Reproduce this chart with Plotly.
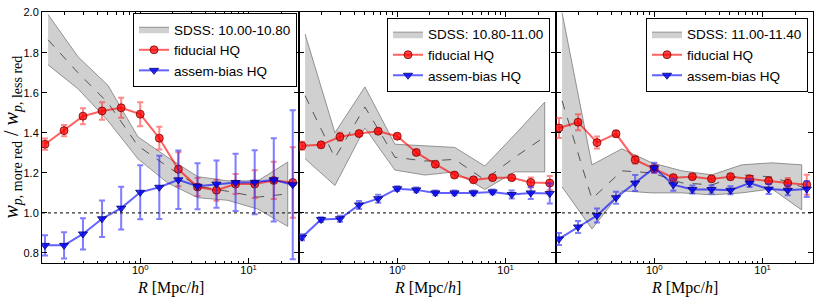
import plotly.graph_objects as go

# ---------------- data ----------------
R = [0.132, 0.198, 0.296, 0.444, 0.667, 1.0, 1.5, 2.25, 3.38, 5.06, 7.59, 11.4, 17.1, 25.6]
R_sdss = [0.141, 0.266, 0.503, 0.952, 1.80, 3.40, 6.43, 12.2, 23.0]

sdss_labels = ["SDSS: 10.00-10.80", "SDSS: 10.80-11.00", "SDSS: 11.00-11.40"]

fid_1 = [1.343, 1.411, 1.483, 1.509, 1.525, 1.493, 1.373, 1.218, 1.129, 1.113, 1.144, 1.144, 1.162, 1.152]
fid_err_1 = [0.028, 0.028, 0.04, 0.044, 0.05, 0.06, 0.057, 0.085, 0.045, 0.052, 0.05, 0.069, 0.093, 0.176]
ab_1 = [0.838, 0.838, 0.895, 0.971, 1.024, 1.103, 1.128, 1.165, 1.133, 1.144, 1.152, 1.153, 1.165, 1.141]
ab_err_1 = [0.051, 0.066, 0.078, 0.091, 0.107, 0.135, 0.158, 0.146, 0.115, 0.118, 0.143, 0.16, 0.208, 0.372]
sdss_hi_1 = [1.99, 1.78, 1.637, 1.38, 1.277, 1.181, 1.16, 1.16, 1.254]
sdss_lo_1 = [1.739, 1.62, 1.46, 1.27, 1.149, 1.076, 1.063, 1.019, 0.933]
sdss_mid_1 = [1.864, 1.70, 1.55, 1.335, 1.23, 1.133, 1.108, 1.079, 1.095]

fid_2 = [1.335, 1.340, 1.380, 1.396, 1.408, 1.383, 1.302, 1.243, 1.189, 1.165, 1.176, 1.176, 1.152, 1.149]
fid_err_2 = [0.02, 0.012, 0.02, 0.012, 0.012, 0.012, 0.012, 0.012, 0.012, 0.012, 0.012, 0.012, 0.025, 0.035]
ab_2 = [0.879, 0.967, 0.971, 1.040, 1.071, 1.121, 1.115, 1.100, 1.100, 1.100, 1.105, 1.092, 1.100, 1.097]
ab_err_2 = [0.015, 0.012, 0.015, 0.02, 0.02, 0.012, 0.012, 0.012, 0.012, 0.012, 0.012, 0.02, 0.03, 0.05]
sdss_hi_2 = [1.893, 1.400, 1.629, 1.343, 1.335, 1.327, 1.234, 1.391, 1.553]
sdss_lo_2 = [1.270, 1.137, 1.424, 1.214, 1.189, 1.205, 1.117, 1.205, 1.205]
sdss_mid_2 = [1.585, 1.275, 1.529, 1.278, 1.259, 1.267, 1.165, 1.278, 1.380]

fid_3 = [1.424, 1.453, 1.351, 1.395, 1.265, 1.221, 1.176, 1.181, 1.170, 1.181, 1.170, 1.160, 1.149, 1.141]
fid_err_3 = [0.05, 0.04, 0.03, 0.015, 0.02, 0.02, 0.015, 0.012, 0.012, 0.015, 0.015, 0.015, 0.025, 0.05]
ab_3 = [0.870, 0.930, 0.987, 1.076, 1.149, 1.225, 1.141, 1.117, 1.117, 1.113, 1.149, 1.119, 1.113, 1.119]
ab_err_3 = [0.03, 0.03, 0.035, 0.03, 0.04, 0.025, 0.03, 0.02, 0.02, 0.02, 0.02, 0.025, 0.025, 0.04]
sdss_hi_3 = [2.00, 1.24, 1.32, 1.25, 1.21, 1.19, 1.24, 1.25, 1.24]
sdss_lo_3 = [1.13, 0.92, 1.11, 1.10, 1.10, 1.09, 1.10, 1.12, 1.015]
sdss_mid_3 = [1.56, 1.07, 1.21, 1.20, 1.15, 1.14, 1.19, 1.18, 1.13]

y_ticks = [0.8, 1.0, 1.2, 1.4, 1.6, 1.8, 2.0]
x_ticks = [1, 10]
x_ticktext = ["10<sup>0</sup>", "10<sup>1</sup>"]
x_minor = [0.2, 0.3, 0.4, 0.5, 0.6, 0.7, 0.8, 0.9, 2, 3, 4, 5, 6, 7, 8, 9, 20]

panels = [
    (fid_1, fid_err_1, ab_1, ab_err_1, sdss_hi_1, sdss_lo_1, sdss_mid_1),
    (fid_2, fid_err_2, ab_2, ab_err_2, sdss_hi_2, sdss_lo_2, sdss_mid_2),
    (fid_3, fid_err_3, ab_3, ab_err_3, sdss_hi_3, sdss_lo_3, sdss_mid_3),
]

# ---------------- figure ----------------
W, H = 830, 307
ML, MR, MT, MB = 42, 17, 6, 44
PW = W - ML - MR
PH = H - MT - MB

RED_LINE = "rgba(255,0,0,0.62)"
RED_ERR = "rgba(255,40,40,0.55)"
BLUE_LINE = "rgba(0,0,255,0.62)"
BLUE_ERR = "rgba(40,40,255,0.6)"

fig = go.Figure()
legend_names = ["legend", "legend2", "legend3"]

for i, (fid, fid_err, ab, ab_err, hi, lo, mid) in enumerate(panels):
    xa = "x" if i == 0 else f"x{i+1}"
    ya = "y" if i == 0 else f"y{i+1}"
    lg = legend_names[i]
    # SDSS band
    fig.add_trace(go.Scatter(
        x=R_sdss + R_sdss[::-1], y=hi + lo[::-1],
        fill="toself", fillcolor="rgba(150,150,150,0.45)",
        line=dict(color="rgba(110,110,110,0.7)", width=1),
        mode="lines", name=sdss_labels[i], legend=lg,
        xaxis=xa, yaxis=ya, hoverinfo="skip"))
    fig.add_trace(go.Scatter(
        x=R_sdss, y=mid, mode="lines",
        line=dict(color="#555555", width=1, dash="dash"),
        showlegend=False, xaxis=xa, yaxis=ya))
    # fiducial
    fig.add_trace(go.Scatter(
        x=R, y=fid, mode="lines+markers", name="fiducial HQ", legend=lg,
        line=dict(color=RED_LINE, width=2),
        marker=dict(symbol="circle", size=8, color="rgba(255,0,0,0.75)",
                    line=dict(color="rgba(110,0,0,0.75)", width=1)),
        error_y=dict(type="data", array=fid_err, color=RED_ERR, thickness=2, width=3),
        xaxis=xa, yaxis=ya))
    # assem-bias
    fig.add_trace(go.Scatter(
        x=R, y=ab, mode="lines+markers", name="assem-bias HQ", legend=lg,
        line=dict(color=BLUE_LINE, width=2),
        marker=dict(symbol="triangle-down", size=8, color="rgba(0,0,255,0.8)",
                    line=dict(color="rgba(0,0,110,0.8)", width=1)),
        error_y=dict(type="data", array=ab_err, color=BLUE_ERR, thickness=2, width=3),
        xaxis=xa, yaxis=ya))
    fig.add_shape(type="line", xref=f"{xa} domain", yref=ya, x0=0, x1=1, y0=1.0, y1=1.0,
                  line=dict(color="black", width=1, dash="dot"), layer="above")

tick_font = dict(family="Liberation Sans, Arial, sans-serif", size=11, color="black")
xr = [-0.907, 1.466]
layout = dict(
    width=W, height=H,
    margin=dict(l=ML, r=MR, t=MT, b=MB),
    paper_bgcolor="white", plot_bgcolor="white",
    font=dict(family="Liberation Sans, Arial, sans-serif", size=12, color="black"),
)
for i in range(3):
    sfx = "" if i == 0 else str(i + 1)
    layout["xaxis" + sfx] = dict(
        type="log", range=xr, domain=[i / 3, (i + 1) / 3], anchor="y" + sfx,
        tickmode="array", tickvals=x_ticks, ticktext=x_ticktext,
        ticks="inside", ticklen=5, tickcolor="black", tickwidth=1,
        showline=True, linecolor="black", linewidth=1, mirror="ticks",
        showgrid=False, zeroline=False, tickfont=tick_font,
        ticklabelstandoff=-3,
        minor=dict(tickmode="array", tickvals=x_minor, ticks="inside", ticklen=2.5,
                   tickcolor="black", tickwidth=1, showgrid=False),
    )
    layout["yaxis" + sfx] = dict(
        range=[0.75, 2.003], anchor="x" + sfx,
        tickmode="array", tickvals=y_ticks, ticktext=[f"{v:.1f}" for v in y_ticks],
        ticks="inside", ticklen=5, tickcolor="black", tickwidth=1,
        showline=True, linecolor="black", linewidth=1, mirror="ticks",
        showgrid=False, zeroline=False, tickfont=tick_font,
        showticklabels=(i == 0),
    )

leg_common = dict(xanchor="right", yanchor="top", bgcolor="white",
                  bordercolor="black", borderwidth=1,
                  font=dict(family="Liberation Sans, Arial, sans-serif", size=13.5, color="black"),
                  tracegroupgap=0, itemwidth=30)
leg_pos = [((297 - ML) / PW, (MT + PH - 7) / PH),
           ((550 - ML) / PW, (MT + PH - 12) / PH),
           ((808 - ML) / PW, (MT + PH - 12) / PH)]
for i, lg in enumerate(legend_names):
    layout[lg] = dict(x=leg_pos[i][0], y=leg_pos[i][1], **leg_common)

annotations = []
serif = dict(family="Liberation Serif, DejaVu Serif, serif", size=16, color="black")
for i in range(3):
    annotations.append(dict(
        text="<i>R</i> [Mpc/<i>h</i>]", xref="paper", yref="paper",
        x=(i + 0.5) / 3, y=(263 - 289) / PH, xanchor="center", yanchor="middle",
        showarrow=False, font=serif))
sub_style = 'style="font-size:14px"'
annotations.append(dict(
    text=(f"<i>w</i><sub><span {sub_style}><i>p</i>, more red</span></sub> / "
          f"<i>w</i><sub><span {sub_style}><i>p</i>, less red</span></sub>"),
    xref="paper", yref="paper", x=(12 - ML) / PW, y=0.5, textangle=-90,
    xanchor="center", yanchor="middle", showarrow=False,
    font=dict(family="Liberation Serif, DejaVu Serif, serif", size=20, color="black")))
layout["annotations"] = annotations

fig.update_layout(**layout)
fig.write_html("out.html", config={"displayModeBar": False},
               post_script="document.body.style.margin='0px';document.body.style.padding='0px';")
